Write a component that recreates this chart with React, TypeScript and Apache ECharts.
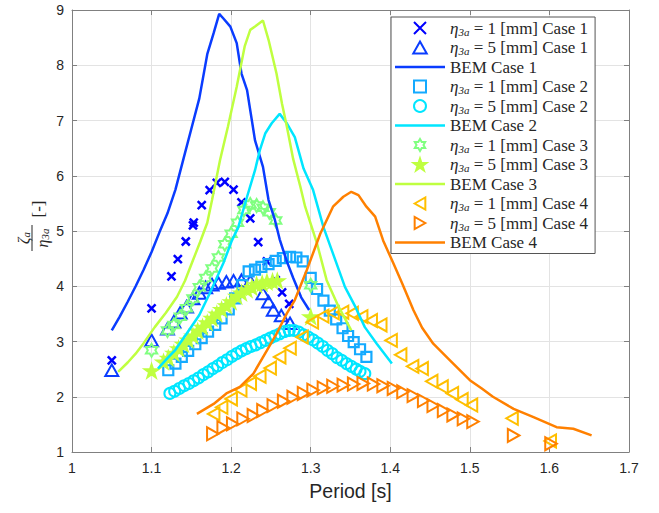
import React, { useEffect, useRef } from 'react';
import * as echarts from 'echarts';

type Pt = [number, number];

// ---------- data (period [s], zeta_a / eta_3a [-]) ----------
const case1Eta1: Pt[] = [
  [1.05, 2.66], [1.1, 3.6], [1.125, 4.18], [1.133, 4.49], [1.143, 4.81], [1.152, 5.1], [1.153, 5.15],
  [1.163, 5.47], [1.173, 5.74], [1.182, 5.87], [1.192, 5.89], [1.203, 5.75], [1.213, 5.52], [1.224, 5.23],
  [1.234, 4.8], [1.245, 4.45], [1.256, 4.11], [1.264, 3.89], [1.273, 3.68],
];
const case1Eta5: Pt[] = [
  [1.05, 2.48], [1.1, 3.02], [1.12, 3.23], [1.128, 3.36], [1.136, 3.52], [1.144, 3.63], [1.152, 3.78],
  [1.16, 3.88], [1.168, 3.98], [1.176, 4.03], [1.184, 4.06], [1.194, 4.08], [1.203, 4.1], [1.213, 4.11],
  [1.224, 4.09], [1.24, 3.87], [1.247, 3.72], [1.253, 3.57], [1.263, 3.47], [1.274, 3.33],
];
const bem1: Pt[] = [
  [1.05, 3.2], [1.06, 3.45], [1.07, 3.72], [1.08, 4.0], [1.09, 4.3], [1.1, 4.62], [1.11, 4.98], [1.12, 5.32],
  [1.13, 5.75], [1.14, 6.3], [1.15, 6.85], [1.16, 7.4], [1.17, 8.2], [1.178, 8.58], [1.185, 8.93],
  [1.19, 8.85], [1.199, 8.7], [1.207, 8.4], [1.213, 7.85], [1.22, 7.55], [1.23, 6.64], [1.24, 6.16],
  [1.247, 5.56], [1.255, 5.2], [1.261, 4.85], [1.27, 4.45], [1.278, 4.15], [1.288, 3.8], [1.298, 3.57],
];
const case2Eta1: Pt[] = [
  [1.121, 2.48], [1.13, 2.6], [1.138, 2.72], [1.146, 2.83], [1.155, 2.95], [1.163, 3.06], [1.171, 3.18],
  [1.18, 3.3], [1.188, 3.42], [1.197, 3.58], [1.205, 3.78], [1.214, 4.02], [1.222, 4.27], [1.23, 4.3],
  [1.238, 4.35], [1.247, 4.4], [1.256, 4.46], [1.265, 4.51], [1.274, 4.53], [1.282, 4.52], [1.29, 4.45],
  [1.3, 4.15], [1.308, 3.95], [1.316, 3.74], [1.324, 3.56], [1.332, 3.4], [1.34, 3.24], [1.347, 3.1],
  [1.354, 2.99], [1.362, 2.86], [1.37, 2.72],
];
const case2Eta5: Pt[] = [
  [1.123, 2.06], [1.129, 2.1], [1.135, 2.15], [1.141, 2.2], [1.147, 2.24], [1.153, 2.29], [1.159, 2.34],
  [1.165, 2.4], [1.171, 2.45], [1.177, 2.51], [1.183, 2.56], [1.189, 2.62], [1.195, 2.67], [1.201, 2.73],
  [1.207, 2.78], [1.213, 2.83], [1.219, 2.87], [1.225, 2.91], [1.231, 2.94], [1.237, 2.98], [1.243, 3.02],
  [1.249, 3.06], [1.255, 3.1], [1.261, 3.14], [1.267, 3.18], [1.273, 3.2], [1.279, 3.2], [1.285, 3.17],
  [1.291, 3.12], [1.297, 3.08], [1.303, 3.03], [1.309, 2.97], [1.315, 2.91], [1.321, 2.84], [1.327, 2.78],
  [1.333, 2.71], [1.339, 2.66], [1.345, 2.6], [1.351, 2.55], [1.357, 2.5], [1.362, 2.46], [1.368, 2.42],
];
const bem2: Pt[] = [
  [1.108, 2.51], [1.12, 2.7], [1.13, 2.85], [1.144, 3.14], [1.16, 3.48], [1.173, 3.87], [1.19, 4.41],
  [1.201, 4.83], [1.209, 5.07], [1.22, 5.62], [1.23, 6.1], [1.236, 6.46], [1.243, 6.77], [1.251, 6.95],
  [1.261, 7.12], [1.27, 6.95], [1.28, 6.7], [1.291, 6.13], [1.303, 5.74], [1.316, 5.07], [1.328, 4.59],
  [1.343, 3.99], [1.356, 3.63], [1.368, 3.26], [1.383, 2.96], [1.402, 2.6],
];
const case3Eta1: Pt[] = [
  [1.1, 2.84], [1.12, 3.2], [1.128, 3.3], [1.136, 3.45], [1.144, 3.6], [1.152, 3.78], [1.16, 3.98],
  [1.168, 4.15], [1.176, 4.32], [1.184, 4.52], [1.192, 4.76], [1.2, 4.95], [1.208, 5.15], [1.216, 5.38],
  [1.224, 5.48], [1.232, 5.46], [1.24, 5.42], [1.248, 5.34], [1.256, 5.19], [1.3, 4.02],
];
const case3Eta5: Pt[] = [
  [1.1, 2.47], [1.115, 2.63], [1.121, 2.7], [1.128, 2.79], [1.134, 2.87], [1.14, 2.95], [1.146, 3.03],
  [1.152, 3.1], [1.158, 3.19], [1.164, 3.26], [1.17, 3.34], [1.176, 3.42], [1.182, 3.5], [1.188, 3.58],
  [1.194, 3.65], [1.2, 3.72], [1.207, 3.82], [1.213, 3.88], [1.22, 3.94], [1.226, 3.98], [1.232, 4.03],
  [1.239, 4.05], [1.245, 4.08], [1.252, 4.09], [1.258, 4.1], [1.3, 3.45],
];
const bem3: Pt[] = [
  [1.058, 2.45], [1.07, 2.62], [1.08, 2.78], [1.09, 2.97], [1.104, 3.26], [1.118, 3.52], [1.132, 3.81],
  [1.142, 4.1], [1.152, 4.47], [1.161, 4.8], [1.17, 5.15], [1.176, 5.56], [1.186, 6.28], [1.196, 6.89],
  [1.207, 7.61], [1.217, 8.34], [1.224, 8.64], [1.23, 8.7], [1.24, 8.81], [1.247, 8.46], [1.257, 7.85],
  [1.264, 7.3], [1.27, 6.89], [1.278, 6.3], [1.287, 5.8], [1.293, 5.44], [1.308, 4.77], [1.32, 4.11],
  [1.335, 3.63], [1.351, 3.2],
];
const case4Eta1: Pt[] = [
  [1.178, 1.69], [1.188, 1.81], [1.2, 1.96], [1.212, 2.12], [1.224, 2.24], [1.236, 2.37], [1.249, 2.52],
  [1.261, 2.72], [1.274, 2.88], [1.289, 3.08], [1.302, 3.35], [1.315, 3.46], [1.328, 3.52], [1.34, 3.53],
  [1.352, 3.51], [1.364, 3.45], [1.376, 3.38], [1.388, 3.3], [1.401, 3.02], [1.413, 2.76], [1.428, 2.55],
  [1.44, 2.51], [1.452, 2.28], [1.465, 2.18], [1.478, 2.06], [1.49, 1.95], [1.502, 1.85], [1.553, 1.61],
  [1.601, 1.2],
];
const case4Eta5: Pt[] = [
  [1.177, 1.33], [1.19, 1.44], [1.202, 1.51], [1.215, 1.6], [1.228, 1.66], [1.24, 1.75], [1.253, 1.84],
  [1.266, 1.92], [1.278, 1.99], [1.291, 2.06], [1.303, 2.12], [1.316, 2.16], [1.328, 2.19], [1.341, 2.21],
  [1.354, 2.23], [1.366, 2.24], [1.379, 2.23], [1.391, 2.2], [1.404, 2.15], [1.416, 2.09], [1.429, 2.02],
  [1.442, 1.93], [1.454, 1.84], [1.467, 1.75], [1.479, 1.67], [1.492, 1.6], [1.504, 1.55], [1.555, 1.3],
  [1.602, 1.15],
];
const bem4: Pt[] = [
  [1.157, 1.69], [1.178, 1.87], [1.194, 2.06], [1.211, 2.18], [1.228, 2.42], [1.245, 2.84], [1.257, 3.14],
  [1.27, 3.51], [1.28, 3.75], [1.295, 4.29], [1.312, 4.95], [1.328, 5.44], [1.341, 5.62], [1.351, 5.71],
  [1.36, 5.65], [1.37, 5.44], [1.381, 5.26], [1.391, 4.83], [1.404, 4.41], [1.415, 4.05], [1.429, 3.57],
  [1.44, 3.25], [1.454, 2.96], [1.475, 2.66], [1.5, 2.3], [1.515, 2.15], [1.529, 2.0], [1.555, 1.78],
  [1.58, 1.63], [1.609, 1.45], [1.63, 1.42], [1.653, 1.3],
];

const caseLabels = ['Case 1', 'Case 2', 'Case 3', 'Case 4'];
const amplitudes = ['1', '5'];

const X_PATH = 'path://M0,0L10,10M10,0L0,10';
const TRI_PATH = 'path://M5,0L10,8.9L0,8.9Z';
const TRI_LEFT_PATH = 'path://M0,5L8.9,0L8.9,10Z';
const TRI_RIGHT_PATH = 'path://M8.9,5L0,0L0,10Z';
const SQ_PATH = 'path://M0,0L10,0L10,10L0,10Z';
const HEX_PATH =
  'path://M5,0L6.443,2.5L9.33,2.5L7.887,5L9.33,7.5L6.443,7.5L5,10L3.557,7.5L0.67,7.5L2.113,5L0.67,2.5L3.557,2.5Z';
const PENT_PATH =
  'path://M5,0L6.123,3.455L9.755,3.455L6.817,5.59L7.939,9.045L5,6.91L2.061,9.045L3.183,5.59L0.245,3.455L3.877,3.455Z';
const LINE_ICON = 'path://M0,0L50,0L50,2.5L0,2.5Z';

const SERIF = 'Liberation Serif';
const SANS = 'Liberation Sans';

function expName(amp: string, c: string) {
  return `eta3a = ${amp} [mm] ${c}`;
}
function bemName(c: string) {
  return `BEM ${c}`;
}

function scatter(name: string, data: Pt[], symbol: string, size: number, color: string, filled: boolean, bw = 2) {
  return {
    type: 'scatter',
    name,
    data,
    symbol,
    symbolSize: size,
    symbolKeepAspect: true,
    itemStyle: { color: filled ? color : 'rgba(0,0,0,0)', borderColor: color, borderWidth: bw, opacity: 1 },
    emphasis: { disabled: true },
    silent: true,
  };
}
function line(name: string, data: Pt[], color: string) {
  return {
    type: 'line',
    name,
    data,
    symbol: 'none',
    showSymbol: false,
    symbolKeepAspect: true,
    lineStyle: { color, width: 2.5 },
    itemStyle: { color },
    emphasis: { disabled: true },
    silent: true,
  };
}

export default function App() {
  const ref = useRef<HTMLDivElement>(null);
  useEffect(() => {
    if (!ref.current) return;
    const chart = echarts.init(ref.current, undefined, { renderer: 'svg' });

    const series: any[] = [
      scatter(expName(amplitudes[0], caseLabels[0]), case1Eta1, X_PATH, 8, '#0000ff', false, 2.5),
      scatter(expName(amplitudes[1], caseLabels[0]), case1Eta5, TRI_PATH, 13, '#0a3cff', false, 2),
      line(bemName(caseLabels[0]), bem1, '#0a3cff'),
      scatter(expName(amplitudes[0], caseLabels[1]), case2Eta1, SQ_PATH, 10, '#14aaff', false, 2.2),
      scatter(expName(amplitudes[1], caseLabels[1]), case2Eta5, 'circle', 11, '#00e6ff', false, 2),
      line(bemName(caseLabels[1]), bem2, '#00e6ff'),
      scatter(expName(amplitudes[0], caseLabels[2]), case3Eta1, HEX_PATH, 13, '#80ff80', false, 2),
      scatter(expName(amplitudes[1], caseLabels[2]), case3Eta5, PENT_PATH, 15, '#bfff40', true, 1.5),
      line(bemName(caseLabels[2]), bem3, '#bfff40'),
      scatter(expName(amplitudes[0], caseLabels[3]), case4Eta1, TRI_LEFT_PATH, 13, '#ffbf00', false, 2),
      scatter(expName(amplitudes[1], caseLabels[3]), case4Eta5, TRI_RIGHT_PATH, 13, '#ff8000', false, 2),
      line(bemName(caseLabels[3]), bem4, '#ff8000'),
    ];

    const legendFormatter = (name: string) => {
      if (name.startsWith('BEM')) return name;
      const m = name.match(/^eta3a = (\d) \[mm\] (.*)$/);
      if (!m) return name;
      return `{m|η}{s|3a} = ${m[1]} [mm] ${m[2]}`;
    };

    const axisGrey = '#808080';
    const textCol = '#262626';
    const fmt1 = (v: number) => (Math.round(v * 10) / 10).toString();

    const option: any = {
      animation: false,
      backgroundColor: '#ffffff',
      grid: { left: 72, right: 30, top: 10, bottom: 61, containLabel: false },
      xAxis: [
        {
          type: 'value', min: 1, max: 1.7, interval: 0.1, position: 'bottom',
          name: 'Period [s]', nameLocation: 'middle', nameGap: 29,
          nameTextStyle: { fontFamily: SANS, fontSize: 19.5, color: textCol },
          axisLine: { show: true, onZero: false, lineStyle: { color: axisGrey, width: 1 } },
          axisTick: { show: true, inside: true, length: 5, lineStyle: { color: axisGrey } },
          axisLabel: { formatter: fmt1, fontFamily: SANS, fontSize: 14, color: textCol, margin: 9 },
          splitLine: { show: true, lineStyle: { color: '#e3e3e3', width: 1 } },
        },
        {
          type: 'value', min: 1, max: 1.7, interval: 0.1, position: 'top',
          axisLine: { show: true, onZero: false, lineStyle: { color: axisGrey, width: 1 } },
          axisTick: { show: true, inside: true, length: 5, lineStyle: { color: axisGrey } },
          axisLabel: { show: false },
          splitLine: { show: false },
        },
      ],
      yAxis: [
        {
          type: 'value', min: 1, max: 9, interval: 1, position: 'left',
          axisLine: { show: true, onZero: false, lineStyle: { color: axisGrey, width: 1 } },
          axisTick: { show: true, inside: true, length: 5, lineStyle: { color: axisGrey } },
          axisLabel: { fontFamily: SANS, fontSize: 14, color: textCol, margin: 8 },
          splitLine: { show: true, lineStyle: { color: '#e3e3e3', width: 1 } },
        },
        {
          type: 'value', min: 1, max: 9, interval: 1, position: 'right',
          axisLine: { show: true, onZero: false, lineStyle: { color: axisGrey, width: 1 } },
          axisTick: { show: true, inside: true, length: 5, lineStyle: { color: axisGrey } },
          axisLabel: { show: false },
          splitLine: { show: false },
        },
      ],
      legend: {
        show: true,
        orient: 'vertical',
        left: 391,
        top: 17,
        padding: [2, 7, 2, 4],
        itemWidth: 50,
        itemHeight: 12,
        itemGap: 1.5,
        selectedMode: false,
        backgroundColor: '#ffffff',
        borderColor: '#555555',
        borderWidth: 1,
        borderRadius: 0,
        data: series.map((s) => (s.type === 'line' ? { name: s.name, icon: LINE_ICON } : { name: s.name })),
        formatter: legendFormatter,
        textStyle: {
          fontFamily: SERIF,
          fontSize: 17,
          color: textCol,
          lineHeight: 18,
          rich: {
            m: { fontFamily: SERIF, fontStyle: 'italic', fontSize: 17, color: textCol, lineHeight: 18 },
            s: { fontFamily: SERIF, fontStyle: 'italic', fontSize: 11, color: textCol, lineHeight: 10, verticalAlign: 'bottom' },
          },
        },
      },
      graphic: [
        {
          type: 'group',
          x: 32,
          y: 238,
          rotation: Math.PI / 2,
          silent: true,
          children: [
            { type: 'line', shape: { x1: -13, y1: 0, x2: 13, y2: 0 }, style: { stroke: textCol, lineWidth: 1 } },
            {
              type: 'text', x: 0, y: -1,
              style: {
                text: '{m|ζ}{s|a}', align: 'center', verticalAlign: 'bottom', fill: textCol,
                rich: {
                  m: { fontFamily: SERIF, fontStyle: 'italic', fontSize: 16, fill: textCol, lineHeight: 16 },
                  s: { fontFamily: SERIF, fontStyle: 'italic', fontSize: 11, fill: textCol, lineHeight: 9, verticalAlign: 'bottom' },
                },
              },
            },
            {
              type: 'text', x: 0, y: 2,
              style: {
                text: '{m|η}{s|3a}', align: 'center', verticalAlign: 'top', fill: textCol,
                rich: {
                  m: { fontFamily: SERIF, fontStyle: 'italic', fontSize: 16, fill: textCol, lineHeight: 16 },
                  s: { fontFamily: SERIF, fontStyle: 'italic', fontSize: 11, fill: textCol, lineHeight: 9, verticalAlign: 'bottom' },
                },
              },
            },
            {
              type: 'text', x: 29, y: 6,
              style: { text: '[-]', align: 'center', verticalAlign: 'middle', fill: textCol, font: `17px "${SERIF}"` },
            },
          ],
        },
      ],
      series,
    };

    chart.setOption(option);
    return () => chart.dispose();
  }, []);

  return (
    <div
      ref={ref}
      style={{ position: 'fixed', left: 0, top: 0, width: 659, height: 513, background: '#fff' }}
    />
  );
}
